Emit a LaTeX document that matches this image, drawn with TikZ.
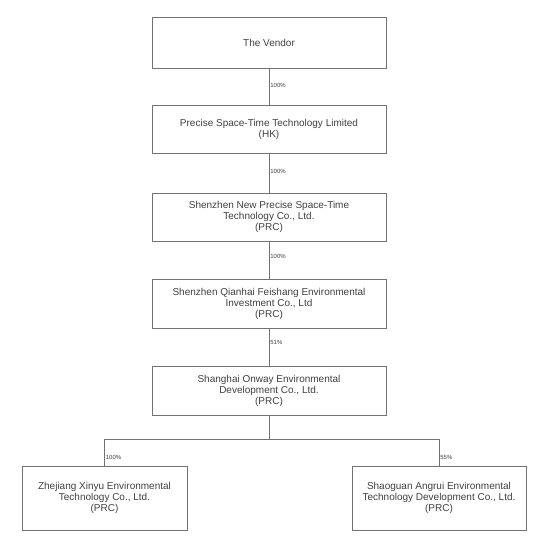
\documentclass[tikz,border=0pt]{standalone}
\usepackage{fontspec}
\setmainfont{Liberation Sans}
\definecolor{txt}{gray}{0.25}
\definecolor{ln}{gray}{0.45}
\begin{document}
\begin{tikzpicture}[x=1pt,y=-1pt,
  box/.style={draw=ln,line width=0.8pt,fill=white,align=center,text=txt,
    font=\fontsize{10}{11}\selectfont,inner sep=0pt},
  conn/.style={draw=ln,line width=0.8pt},
  pct/.style={font=\fontsize{6}{7}\selectfont,text=txt,anchor=west,inner sep=1pt}]
\useasboundingbox[fill=white] (0,0) rectangle (554,544);
\node[box,minimum width=234,minimum height=51] (b1) at (269,42.5) {The Vendor};
\node[box,minimum width=234,minimum height=48] (b2) at (269,129) {Precise Space-Time Technology Limited\\(HK)};
\node[box,minimum width=234,minimum height=48] (b3) at (269,217) {Shenzhen New Precise Space-Time\\Technology Co., Ltd.\\(PRC)};
\node[box,minimum width=234,minimum height=49] (b4) at (269,303.5) {Shenzhen Qianhai Feishang Environmental\\Investment Co., Ltd\\(PRC)};
\node[box,minimum width=234,minimum height=49] (b5) at (269,390.5) {Shanghai Onway Environmental\\Development Co., Ltd.\\(PRC)};
\node[box,minimum width=165,minimum height=64] (l) at (104.5,498) {Zhejiang Xinyu Environmental\\Technology Co., Ltd.\\(PRC)};
\node[box,minimum width=174,minimum height=64] (r) at (439,498) {Shaoguan Angrui Environmental\\Technology Development Co., Ltd.\\(PRC)};
\coordinate (j) at (269,439);
\draw[conn] (b1) -- node[pct,pos=0.48] {100\%} (b2);
\draw[conn] (b2) -- node[pct,pos=0.45] {100\%} (b3);
\draw[conn] (b3) -- node[pct,pos=0.4] {100\%} (b4);
\draw[conn] (b4) -- node[pct,pos=0.38] {51\%} (b5);
\draw[conn] (b5) -- (j);
\draw[conn] (j) -| node[pct,pos=0.85] {100\%} (l.north);
\draw[conn] (j) -| node[pct,pos=0.85] {55\%} (r.north);
\end{tikzpicture}
\end{document}
